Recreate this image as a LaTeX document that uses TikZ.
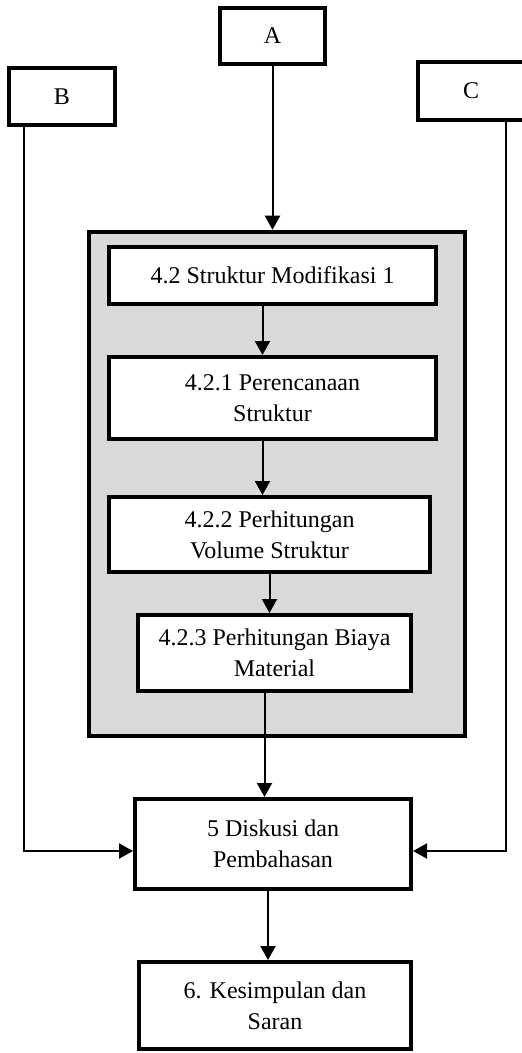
\documentclass[tikz,border=0pt]{standalone}
\usepackage{fontspec}
\setmainfont{Liberation Serif}
\usetikzlibrary{positioning, arrows.meta}

\definecolor{panelgray}{HTML}{D9D9D9}

\tikzset{
	box/.style={draw, line width=2pt, fill=white, align=center, inner sep=0pt,
		font=\fontsize{12pt}{15.5pt}\selectfont},
	arr/.style={line width=1pt, -{Triangle[length=7pt,width=7.5pt]}},
}

\begin{document}
\begin{tikzpicture}[x=0.5pt,y=-0.5pt]

		\useasboundingbox (0,0) rectangle (522,1053);

		% top boxes
		\node[box, minimum width=52.5pt, minimum height=28pt] (A) at (272.5,36) {A};
		\node[box, minimum width=53pt, minimum height=28.5pt] (B) at (62,96.5) {B};
		\node[box, minimum width=53pt, minimum height=29pt] (C) at (471,91) {C};

		% panel 4.2
		\node[draw, line width=2.25pt, fill=panelgray, minimum width=188pt,
			minimum height=252pt] (panel) at (277,484) {};
		\node[box, minimum width=163.5pt, minimum height=28.5pt]
			(struktur) at (272.5,275.5) {4.2 Struktur Modifikasi 1};
		\node[box, minimum width=163.5pt, minimum height=41pt]
			(rencana) at (272.5,398) {4.2.1 Perencanaan\\Struktur};
		\node[box, minimum width=160.5pt, minimum height=37.5pt]
			(volume) at (269.5,534.5) {4.2.2 Perhitungan\\Volume Struktur};
		\node[box, minimum width=136.5pt, minimum height=38pt]
			(biaya) at (274.5,653) {4.2.3 Perhitungan Biaya\\Material};

		% bottom boxes
		\node[box, minimum width=138pt, minimum height=45pt]
			(diskusi) at (273,844) {5 Diskusi dan\\Pembahasan};
		\node[box, minimum width=136pt, minimum height=43.5pt]
			(simpulan) at (275,1005.5) {6. Kesimpulan dan\\Saran};

		% arrows
		\draw[arr] (A.south) -- (A.south |- panel.north);
		\draw[arr] ([xshift=-5pt]struktur.south) -- ([xshift=-5pt]struktur.south |- rencana.north);
		\draw[arr] ([xshift=-5pt]rencana.south) -- ([xshift=-5pt]rencana.south |- volume.north);
		\draw[arr] (volume.south) -- (volume.south |- biaya.north);
		\draw[arr] ([xshift=-5pt]biaya.south) -- ([xshift=-5pt]biaya.south |- diskusi.north);
		\draw[arr] ([xshift=-2.5pt]diskusi.south) -- ([xshift=-2.5pt]diskusi.south |- simpulan.north);
		\draw[arr] ([xshift=8.5pt]B.south west) |- ([yshift=-3.5pt]diskusi.west);
		\draw[arr] ([xshift=17.5pt]C.south) |- ([yshift=-3.5pt]diskusi.east);

	\end{tikzpicture}
\end{document}
